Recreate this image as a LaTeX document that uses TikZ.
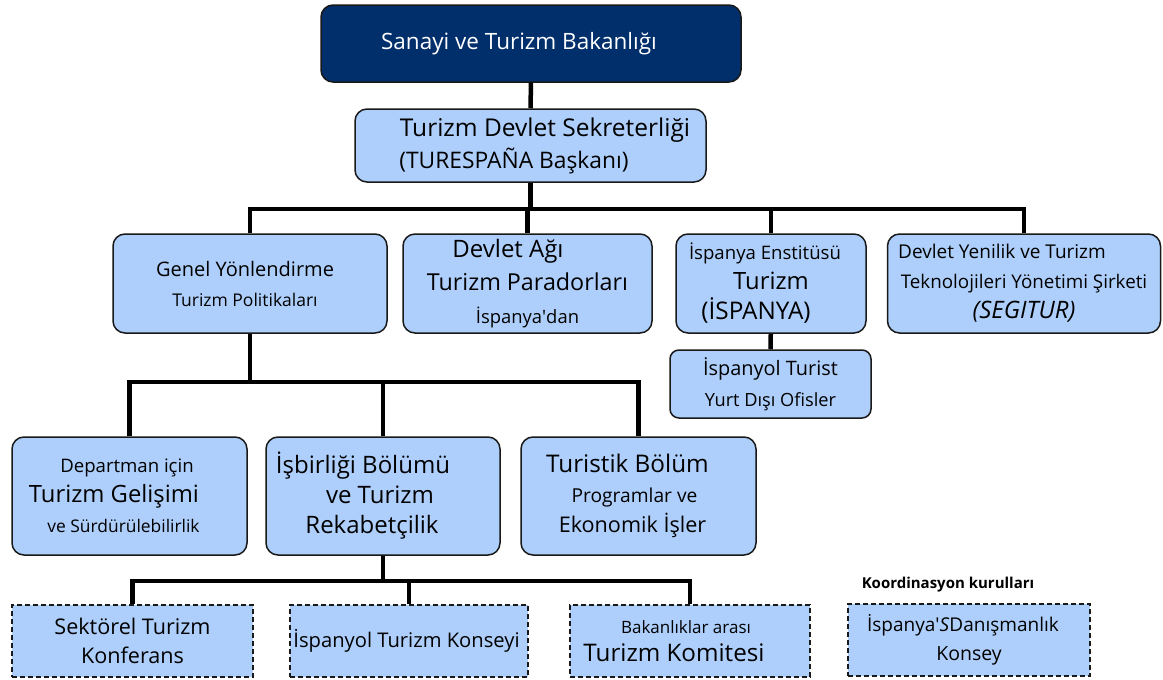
\documentclass[tikz,border=0pt]{standalone}
\usepackage{fontspec}
\setmainfont{Open Sans}
\newfontfamily\apofont{Open Sans}
\usepackage{xcolor}
\definecolor{boxblue}{RGB}{174,207,251}
\definecolor{navy}{RGB}{1,47,107}
\newcommand{\fsz}[1]{\fontsize{#1}{30}\selectfont}
\newcommand{\sh}[1]{\hspace*{#1pt}}
\newcommand{\apo}{{\apofont'}}

\begin{document}
\begin{tikzpicture}[x=1pt, y=-1pt,
  box/.style={draw=black!90, line width=1.5pt, fill=boxblue, rounded corners=12pt, align=center, inner sep=0pt, font=\fsz{16}},
  dbox/.style={draw=black!90, line width=1.5pt, dashed, dash pattern=on 5pt off 3pt, fill=boxblue, align=center, inner sep=0pt, font=\fsz{16}},
  conn/.style={line width=4.5pt, black}]
\useasboundingbox (0,0) rectangle (1163,680);

% ust kademe
\node[box, fill=navy, text=white, minimum width=420pt, minimum height=77pt, font=\fsz{22.5}] (bakanlik) at (531,43.5) {\sh{-24}Sanayi ve Turizm Bakanlığı};
\node[box, minimum width=351pt, minimum height=73pt, font=\fontsize{23}{32}\selectfont] (sekreter) at (530.5,145.5) {\sh{29}\fontsize{24.5}{32}\selectfont Turizm Devlet Sekreterliği\\\sh{-33}\fontsize{22.8}{32}\selectfont(TURESPAÑA Başkanı)};

% ikinci kademe
\node[box, minimum width=274pt, minimum height=99pt] (genel) at (250,283.5) {\sh{-10}\fsz{20}Genel Yönlendirme\\\sh{-10}\fsz{17.5}Turizm Politikaları};
\node[box, minimum width=249pt, minimum height=99pt, font=\fontsize{16}{33}\selectfont] (parador) at (527.5,283.5) {\sh{-39}\fontsize{24}{33}\selectfont Devlet Ağı\\\fontsize{23.3}{33}\selectfont Turizm Paradorları\\\fontsize{18.4}{33}\selectfont İspanya\apo dan};
\node[box, minimum width=190pt, minimum height=99pt] (enstitu) at (771,283.5) {\sh{-12}\fsz{18.6}İspanya Enstitüsü\\\fsz{23.8}Turizm\\\sh{-30}\fsz{24.3}(İSPANYA)};
\node[box, minimum width=273pt, minimum height=99pt] (segitur) at (1024,283.5) {\sh{-44}\fsz{19}Devlet Yenilik ve Turizm\\\fsz{18.8}Teknolojileri Yönetimi Şirketi\\\fsz{24}\itshape (SEGITUR)};
\node[box, rounded corners=9pt, minimum width=201pt, minimum height=68pt, font=\fontsize{16}{31}\selectfont] (ofis) at (770.5,384) {\fontsize{19.9}{31}\selectfont İspanyol Turist\\\fontsize{18.2}{31}\selectfont Yurt Dışı Ofisler};

% ucuncu kademe
\node[box, minimum width=235pt, minimum height=118pt] (gelisim) at (129.5,496) {\sh{-5}\fsz{18.6}Departman için\\\sh{-31}\fsz{23.8}Turizm Gelişimi\\\sh{-12}\fsz{17.4}ve Sürdürülebilirlik};
\node[box, minimum width=234pt, minimum height=118pt] (isbirligi) at (383,496) {\sh{-40}\fsz{24}İşbirliği Bölümü\\\sh{-6}\fsz{24}ve Turizm\\\sh{-22}\fsz{24}Rekabetçilik};
\node[box, minimum width=235pt, minimum height=118pt] (turistik) at (638.5,496) {\sh{-22}\fsz{24.3}Turistik Bölüm\\\sh{-8}\fsz{19.2}Programlar ve\\\sh{-12}\fsz{21.6}Ekonomik İşler};

% kurullar
\node[dbox, minimum width=241pt, minimum height=72pt, font=\fontsize{16}{29}\selectfont] (konferans) at (132.5,641) {\fontsize{21.6}{29}\selectfont Sektörel Turizm\\\fontsize{21.6}{29}\selectfont Konferans};
\node[dbox, minimum width=238pt, minimum height=72pt, font=\fsz{20.2}] (konsey) at (409,641) {\sh{-5}İspanyol Turizm Konseyi};
\node[dbox, minimum width=240pt, minimum height=72pt, font=\fontsize{16}{28}\selectfont] (komite) at (690,641) {\sh{-8}\fontsize{17}{28}\selectfont Bakanlıklar arası\\\sh{-32}\fontsize{24.2}{28}\selectfont Turizm Komitesi};
\node[dbox, minimum width=242pt, minimum height=72pt, font=\fontsize{16}{29}\selectfont] (danisma) at (969,640) {\sh{-12}\fontsize{19}{29}\selectfont İspanya\apo\textit{S}Danışmanlık\\\fontsize{19.5}{29}\selectfont Konsey};
\node[font=\fsz{15}\bfseries, inner sep=0pt] (kurul) at (948,585) {Koordinasyon kurulları};

% baglantilar
\draw[conn] (bakanlik) -- (sekreter);
\draw[conn] (sekreter.south) -- ++(0,26) coordinate (bus1);
\foreach \n in {genel,parador,enstitu,segitur} \draw[conn] (\n.north) |- (bus1);
\draw[conn] (enstitu) -- (ofis);
\draw[conn] (genel.south) -- ++(0,48) coordinate (bus2);
\foreach \n in {gelisim,isbirligi,turistik} \draw[conn] (\n.north) |- (bus2);
\draw[conn] (isbirligi.south) -- ++(0,25) coordinate (bus3);
\foreach \n in {konferans,konsey,komite} \draw[conn] (\n.north) |- (bus3);
\end{tikzpicture}
\end{document}
